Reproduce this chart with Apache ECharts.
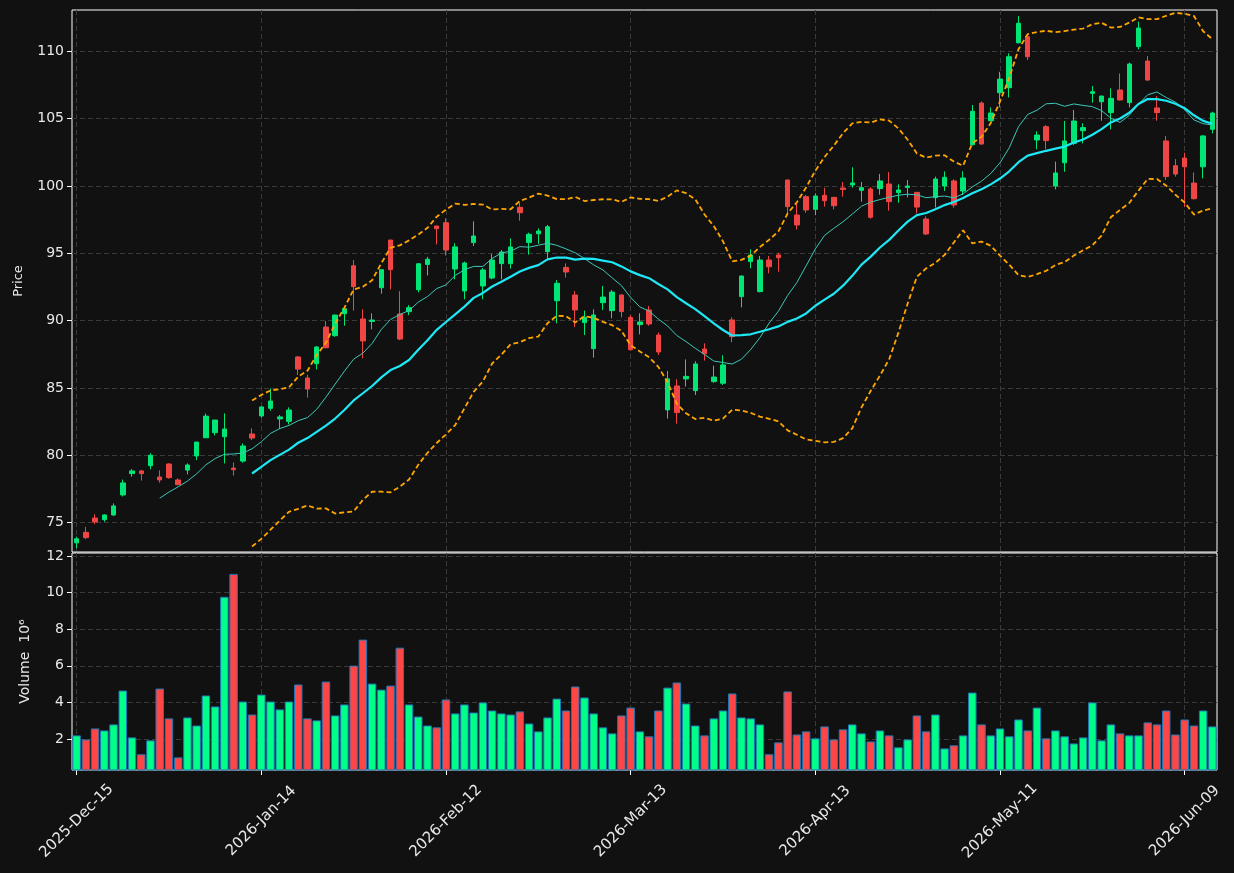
<!DOCTYPE html>
<html>
<head>
<meta charset="utf-8">
<title>Price / Volume</title>
<script src="https://cdn.jsdelivr.net/npm/echarts@6/dist/echarts.min.js"></script>
<style>
  html, body { margin: 0; padding: 0; background: #111111; }
  #chart { width: 1234px; height: 873px; }
</style>
</head>
<body>
<div id="chart"></div>
<script>
// tick labels every 20 sessions
const tickLabels = ["2025-Dec-15", "2026-Jan-14", "2026-Feb-12", "2026-Mar-13", "2026-Apr-13", "2026-May-11", "2026-Jun-09"];
const tickStep = 20;

const opens = [
  73.5, 74.28, 75.34, 75.22, 75.57, 77.06, 78.64, 78.84, 79.23, 78.39,
  79.35, 78.17, 78.9, 79.95, 81.3, 81.68, 81.38, 79.05, 79.57, 81.58,
  82.92, 83.49, 82.7, 82.52, 87.3, 85.74, 86.8, 89.52, 88.88, 90.51,
  94.07, 90.12, 89.94, 92.44, 95.98, 90.49, 90.66, 92.29, 94.17, 97.02,
  97.27, 93.83, 92.2, 95.79, 92.57, 93.16, 94.23, 94.23, 98.41, 95.79,
  96.45, 95.12, 91.48, 93.95, 91.9, 89.85, 87.92, 91.33, 90.74, 91.9,
  90.24, 89.7, 90.79, 88.93, 83.37, 85.15, 85.67, 84.8, 87.89, 85.47,
  85.35, 90.05, 91.78, 94.38, 92.15, 94.5, 94.87, 100.44, 97.84, 99.2,
  98.26, 99.3, 99.15, 99.84, 100.07, 99.67, 99.77, 99.8, 100.14, 99.5,
  99.89, 99.52, 97.54, 99.13, 99.99, 100.37, 99.62, 103.06, 106.15, 104.84,
  106.92, 107.29, 110.63, 111.08, 103.41, 104.4, 99.99, 101.72, 103.16, 104.1,
  106.87, 106.25, 105.44, 107.12, 106.18, 110.34, 109.27, 105.79, 103.34, 101.5,
  102.07, 100.21, 101.42, 104.2
];
const highs = [
  73.96, 74.68, 75.62, 75.62, 76.43, 78.2, 78.98, 78.91, 80.15, 78.88,
  79.42, 78.29, 79.4, 81.0, 83.1, 82.62, 83.11, 79.47, 80.88, 82.0,
  83.62, 84.97, 82.99, 83.56, 87.37, 85.98, 88.1, 89.97, 90.45, 90.9,
  94.49, 90.83, 90.54, 93.8, 96.0, 92.19, 91.15, 94.25, 94.74, 97.05,
  97.59, 95.74, 94.38, 97.37, 93.9, 94.95, 95.24, 96.1, 98.76, 96.53,
  96.85, 97.1, 93.01, 94.25, 92.2, 90.74, 90.84, 92.57, 92.27, 91.95,
  90.4, 90.54, 91.08, 89.12, 86.26, 85.64, 87.12, 86.98, 88.31, 86.65,
  87.42, 90.24, 93.35, 95.29, 94.8, 94.8, 95.04, 100.46, 98.65, 99.33,
  99.45, 99.86, 99.17, 100.29, 101.38, 100.29, 99.9, 100.89, 101.03, 100.12,
  100.44, 99.55, 97.74, 100.69, 101.08, 100.49, 101.08, 106.0, 106.27, 105.83,
  108.47, 109.84, 112.61, 111.1, 104.05, 104.52, 101.8, 104.82, 105.64, 104.65,
  107.42, 106.7, 107.24, 108.35, 109.15, 112.19, 109.64, 106.67, 103.71, 101.99,
  102.46, 101.0, 103.76, 105.51
];
const lows = [
  73.1, 73.77, 74.88, 75.07, 75.5, 76.94, 78.41, 78.12, 78.96, 77.97,
  78.26, 77.77, 78.58, 79.65, 81.3, 81.48, 79.4, 78.49, 79.45, 81.13,
  82.79, 83.31, 81.96, 82.3, 85.96, 84.28, 86.37, 87.94, 88.8, 89.62,
  90.74, 87.2, 89.35, 92.0, 92.31, 88.55, 90.4, 92.1, 93.35, 95.66,
  94.82, 93.06, 91.58, 95.54, 91.58, 93.07, 93.07, 93.86, 97.42, 94.9,
  95.7, 94.62, 89.8, 93.19, 89.51, 88.93, 87.25, 90.79, 90.17, 90.24,
  87.78, 88.98, 89.62, 87.45, 82.72, 82.35, 85.1, 84.48, 87.03, 85.39,
  85.22, 88.39, 90.98, 93.88, 92.1, 93.51, 93.63, 97.84, 96.77, 98.0,
  97.82, 98.46, 98.26, 99.2, 99.87, 98.83, 97.57, 99.35, 98.16, 98.75,
  99.15, 97.96, 96.36, 98.4, 99.62, 98.38, 99.32, 103.0, 103.06, 104.8,
  105.83, 106.57, 110.58, 109.35, 102.72, 102.72, 99.74, 101.05, 103.04, 103.16,
  106.18, 104.84, 104.2, 106.35, 105.83, 110.14, 107.8, 104.84, 100.44, 100.69,
  98.43, 99.0, 100.56, 103.9
];
const closes = [
  73.8, 73.89, 75.05, 75.57, 76.24, 77.95, 78.84, 78.64, 80.0, 78.17,
  78.34, 77.82, 79.28, 80.98, 82.91, 82.62, 81.95, 78.93, 80.69, 81.28,
  83.59, 84.03, 82.85, 83.36, 86.4, 84.92, 88.04, 87.99, 90.41, 90.88,
  92.52, 88.49, 90.04, 93.78, 93.78, 88.63, 90.96, 94.22, 94.56, 96.82,
  95.24, 95.47, 94.28, 96.28, 93.76, 94.5, 95.09, 95.47, 98.01, 96.41,
  96.65, 96.97, 92.77, 93.61, 90.79, 90.24, 90.42, 91.75, 92.12, 90.67,
  87.84, 89.9, 89.75, 87.67, 85.67, 83.17, 85.86, 86.78, 87.54, 85.81,
  86.71, 88.81, 93.31, 94.87, 94.5, 94.0, 94.67, 98.46, 97.1, 98.21,
  99.25, 98.9, 98.53, 99.74, 100.22, 99.87, 97.67, 100.37, 98.83, 99.7,
  99.99, 98.43, 96.43, 100.51, 100.64, 98.58, 100.59, 105.54, 103.11, 105.41,
  107.93, 109.59, 112.07, 109.59, 103.78, 103.36, 100.96, 103.34, 104.82, 104.33,
  106.99, 106.67, 106.5, 106.38, 109.05, 111.72, 107.86, 105.44, 100.69, 100.88,
  101.42, 99.05, 103.71, 105.41
];
// volume in millions
const volumes = [
  2.2, 1.98, 2.58, 2.47, 2.8, 4.65, 2.09, 1.17, 1.93, 4.76,
  3.13, 1.0, 3.18, 2.74, 4.38, 3.78, 9.77, 11.02, 4.05, 3.34,
  4.43, 4.05, 3.62, 4.05, 4.98, 3.13, 3.02, 5.14, 3.29, 3.89,
  6.01, 7.43, 5.03, 4.7, 4.92, 6.99, 3.89, 3.23, 2.74, 2.64,
  4.16, 3.4, 3.89, 3.45, 4.0, 3.56, 3.4, 3.34, 3.51, 2.85,
  2.42, 3.18, 4.21, 3.56, 4.87, 4.27, 3.4, 2.64, 2.31, 3.29,
  3.72, 2.42, 2.15, 3.56, 4.81, 5.09, 3.94, 2.74, 2.2, 3.13,
  3.56, 4.49, 3.18, 3.13, 2.8, 1.17, 1.82, 4.6, 2.25, 2.42,
  2.04, 2.69, 1.98, 2.53, 2.8, 2.31, 1.87, 2.47, 2.2, 1.55,
  1.98, 3.29, 2.42, 3.34, 1.49, 1.66, 2.2, 4.54, 2.8, 2.2,
  2.58, 2.15, 3.07, 2.47, 3.72, 2.04, 2.47, 2.15, 1.76, 2.09,
  4.0, 1.93, 2.8, 2.31, 2.2, 2.2, 2.91, 2.8, 3.56, 2.25,
  3.07, 2.74, 3.56, 2.69
];

const priceTicks = [75, 80, 85, 90, 95, 100, 105, 110];
const volumeTicks = [2, 4, 6, 8, 10, 12];

const UP = "#00e676";
const DOWN = "#f04545";
const VOL_UP = "#00ff88";
const VOL_DOWN = "#ff4646";

const cats = opens.map((_, i) => String(i));
const candles = opens.map((o, i) => [o, closes[i], lows[i], highs[i]]);

function movingAvg(n) {
  return closes.map((_, i) => {
    if (i < n - 1) return null;
    let s = 0;
    for (let k = i - n + 1; k <= i; k++) s += closes[k];
    return +(s / n).toFixed(3);
  });
}

function bollinger(n, k) {
  const mid = movingAvg(n);
  const up = [], lo = [];
  closes.forEach((_, i) => {
    if (mid[i] == null) { up.push(null); lo.push(null); return; }
    let ss = 0;
    for (let j = i - n + 1; j <= i; j++) ss += (closes[j] - mid[i]) ** 2;
    const sd = Math.sqrt(ss / (n - 1));
    up.push(+(mid[i] + k * sd).toFixed(3));
    lo.push(+(mid[i] - k * sd).toFixed(3));
  });
  return { up, lo };
}

const ma10 = movingAvg(10);
const ma20 = movingAvg(20);
const bb = bollinger(20, 2);

const volData = volumes.map((v, i) => ({
  value: v,
  itemStyle: { color: closes[i] >= opens[i] ? VOL_UP : VOL_DOWN },
}));

const isTick = (idx) => idx % tickStep === 0;
const FONT = "DejaVu Sans";
const TXT = "#e8e8e8";
const gridLine = { show: true, lineStyle: { color: "#3a3a3a", type: [5, 3], width: 1 } };

const chart = echarts.init(document.getElementById("chart"));
chart.setOption({
  backgroundColor: "#111111",
  animation: false,
  textStyle: { fontFamily: FONT },
  grid: [
    { left: 72, right: 17, top: 10, height: 542, show: true, borderColor: "#ffffff", borderWidth: 1, backgroundColor: "#111111" },
    { left: 72, right: 17, top: 553, height: 217, show: true, borderColor: "#ffffff", borderWidth: 1, backgroundColor: "#111111" },
  ],
  xAxis: [
    {
      type: "category", gridIndex: 0, data: cats, boundaryGap: true,
      axisLine: { show: false }, axisTick: { show: false }, axisLabel: { show: false },
      splitLine: { ...gridLine, interval: isTick, alignWithLabel: true },
    },
    {
      type: "category", gridIndex: 1, data: cats, boundaryGap: true,
      axisLine: { show: false },
      axisTick: { show: true, interval: isTick, alignWithLabel: true, length: 5, lineStyle: { color: "#ffffff" } },
      axisLabel: {
        interval: isTick, rotate: 45, color: TXT, fontSize: 15, fontFamily: FONT,
        align: "center", verticalAlign: "middle", margin: 51,
        formatter: (v, idx) => (isTick(idx) ? tickLabels[idx / tickStep] : ""),
      },
      splitLine: { ...gridLine, interval: isTick, alignWithLabel: true },
    },
  ],
  yAxis: [
    {
      type: "value", gridIndex: 0, min: 72.82, max: 113.06, position: "left",
      name: "Price", nameLocation: "middle", nameGap: 47, nameRotate: 90,
      nameTextStyle: { color: TXT, fontSize: 13, fontFamily: FONT },
      axisLine: { show: false },
      axisTick: { show: true, length: 5, customValues: priceTicks, lineStyle: { color: "#ffffff" } },
      axisLabel: { customValues: priceTicks, color: TXT, fontSize: 14, fontFamily: FONT, margin: 8 },
      splitLine: gridLine,
    },
    {
      type: "value", gridIndex: 1, min: 0.31, max: 12.16, position: "left",
      name: "Volume  10\u2076", nameLocation: "middle", nameGap: 40, nameRotate: 90,
      nameTextStyle: { color: TXT, fontSize: 14, fontFamily: FONT },
      axisLine: { show: false },
      axisTick: { show: true, length: 5, customValues: volumeTicks, lineStyle: { color: "#ffffff" } },
      axisLabel: { customValues: volumeTicks, color: TXT, fontSize: 14, fontFamily: FONT, margin: 8 },
      splitLine: gridLine,
    },
  ],
  series: [
    {
      name: "OHLC", type: "candlestick", xAxisIndex: 0, yAxisIndex: 0,
      data: candles, barWidth: 5,
      itemStyle: { color: UP, color0: DOWN, borderColor: UP, borderColor0: DOWN, borderWidth: 1 },
    },
    {
      name: "MA10", type: "line", xAxisIndex: 0, yAxisIndex: 0, data: ma10,
      showSymbol: false, lineStyle: { color: "#3cc8b8", width: 1 }, z: 3,
    },
    {
      name: "MA20", type: "line", xAxisIndex: 0, yAxisIndex: 0, data: ma20,
      showSymbol: false, lineStyle: { color: "#1ee8f5", width: 2.2 }, z: 3,
    },
    {
      name: "BB upper", type: "line", xAxisIndex: 0, yAxisIndex: 0, data: bb.up,
      showSymbol: false, lineStyle: { color: "#ffa500", width: 1.8, type: [5, 3] }, z: 3,
    },
    {
      name: "BB lower", type: "line", xAxisIndex: 0, yAxisIndex: 0, data: bb.lo,
      showSymbol: false, lineStyle: { color: "#ffa500", width: 1.8, type: [5, 3] }, z: 3,
    },
    {
      name: "Volume", type: "bar", xAxisIndex: 1, yAxisIndex: 1, data: volData,
      barCategoryGap: "8%",
      itemStyle: { borderColor: "#1f77b4", borderWidth: 1 },
    },
  ],
});
</script>
</body>
</html>
